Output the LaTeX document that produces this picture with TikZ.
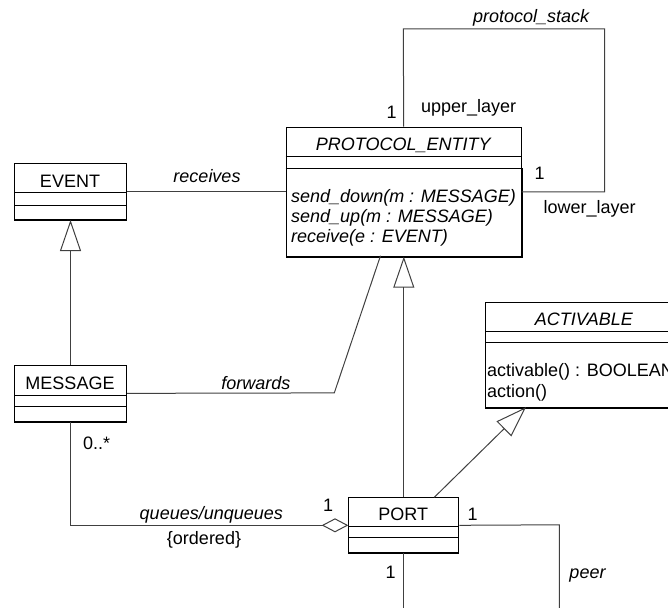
\documentclass[tikz,border=0pt]{standalone}
\usepackage{fontspec}
\setmainfont{Liberation Sans}
\usetikzlibrary{arrows.meta,calc}
\begin{document}
\begin{tikzpicture}[x=1pt,y=-1pt,
  font=\fontsize{18}{20}\selectfont,
  box/.style={draw=black, line width=1pt, fill=white, inner sep=0pt, anchor=north west},
  lbl/.style={inner sep=0pt, anchor=base},
  lblw/.style={inner sep=0pt, anchor=base west},
  divider/.style={draw=black, line width=1pt},
  heavy/.style={draw=black, line width=2.2pt},
  conn/.style={draw=black!75, line width=1pt},
  gen/.style={conn, -{Triangle[open, length=31pt, width=21pt, line width=1pt]}},
  agg/.style={conn, {Diamond[open, length=26.6pt, width=14pt, line width=1pt]}-},
]
\useasboundingbox (0,0) rectangle (668,607);
\clip (0,0) rectangle (668,607);

% ---------- classes ----------
\node[box, minimum width=112pt, minimum height=55.7pt] (event) at (14,163.3) {};
\node[box, minimum width=112pt, minimum height=55.7pt] (message) at (14,365) {};
\node[box, minimum width=235pt, minimum height=129pt] (pe) at (285.7,126.7) {};
\node[box, minimum width=110pt, minimum height=55pt] (port) at (348.3,497.3) {};
\node[box, minimum width=197.6pt, minimum height=105.5pt] (act) at (485,301.7) {};

% dividers
\draw[divider] (14,192.7) -- (126,192.7);
\draw[divider] (14,205) -- (126,205);
\draw[divider] (14,395.7) -- (126,395.7);
\draw[divider] (14,406.7) -- (126,406.7);
\draw[divider] (285.7,156.7) -- (520.7,156.7);
\draw[divider] (285.7,168.3) -- (520.7,168.3);
\draw[divider] (348.3,526.7) -- (458.3,526.7);
\draw[divider] (348.3,537.7) -- (458.3,537.7);
\draw[divider] (485,331) -- (682.6,331);
\draw[divider] (485,342.3) -- (682.6,342.3);

% heavier bottom / right edges
\draw[heavy] (event.south west) -- (event.south east);
\draw[heavy] (message.south west) -- (message.south east);
\draw[heavy] (port.south west) -- (port.south east);
\draw[heavy] (act.south west) -- (act.south east);
\draw[heavy] (pe.north east |- 0,168.3) -- (pe.south east) -- (pe.south west);

% class texts
\node[lbl] (eventT) at (70,187.3) {EVENT};
\node[lbl] (messageT) at (70,389.3) {MESSAGE};
\node[lbl] (portT) at (403.3,520.7) {PORT};
\node[lbl] (peT) at (403.2,150) {\itshape PROTOCOL\_ENTITY};
\node[lblw] (m1) at (291,202) {\itshape send\_down(m : MESSAGE)};
\node[lblw] (m2) at (291,222.3) {\itshape send\_up(m : MESSAGE)};
\node[lblw] (m3) at (291,242.7) {\itshape receive(e : EVENT)};
\node[lbl] (actT) at (583.8,325) {\itshape ACTIVABLE};
\node[lblw] (a1) at (487,376) {activable() : BOOLEAN};
\node[lblw] (a2) at (487,397) {action()};

% ---------- connectors ----------
% receives
\draw[conn] (event.east) -- (event.east -| pe.west);
% forwards
\coordinate (fwbend) at (334.3,392.9);
\coordinate (fwend) at (380.5,255.7);
\draw[conn] (message.east) -- (fwbend) -- (fwend);
% protocol_stack self loop
\coordinate (ps1) at (403.3,29);
\coordinate (ps2) at (604.6,29);
\coordinate (ps3) at (604.6,191.9);
\draw[conn] (pe.north) -- (ps1) -- (ps2) -- (ps3) -- (ps3 -| pe.east);
% generalisations
\draw[gen] (message.north) -- (event.south);
\draw[gen] (port.north) -- (port.north |- pe.south);
\coordinate (pastart) at (434.3,497.3);
\coordinate (patip) at (526,407.2);
\draw[gen] (pastart) -- (patip);
% aggregation MESSAGE - PORT
\draw[agg] (port.west) -- (port.west -| message.south) -- (message.south);
% peer
\coordinate (peerb) at (559.3,524.8);
\coordinate (peerend) at (559.3,612);
\draw[conn] (port.east) -- (peerb) -- (peerend);
\draw[conn] (port.south) -- (port.south |- peerend);

% ---------- labels ----------
\node[lbl] (lps) at (531.2,22.7) {\itshape protocol\_stack};
\node[lbl] (lup) at (468.7,112.3) {upper\_layer};
\node[lbl] (lup1) at (391.7,118.5) {1};
\node[lbl] (llo1) at (539.5,179.3) {1};
\node[lbl] (llo) at (589.7,213.3) {lower\_layer};
\node[lbl] (lrec) at (207,182) {\itshape receives};
\node[lbl] (lfw) at (255.8,389) {\itshape forwards};
\node[lblw] (lmany) at (83,449) {0..*};
\node[lbl] (lq) at (211.3,519.3) {\itshape queues/unqueues};
\node[lbl] (lord) at (204,544.3) {\{ordered\}};
\node[lbl] (lq1) at (328,511.7) {1};
\node[lbl] (lpr1) at (472.7,520.7) {1};
\node[lbl] (lpeer) at (587.5,578) {\itshape peer};
\node[lbl] (lpb1) at (390.7,578) {1};
\end{tikzpicture}
\end{document}
